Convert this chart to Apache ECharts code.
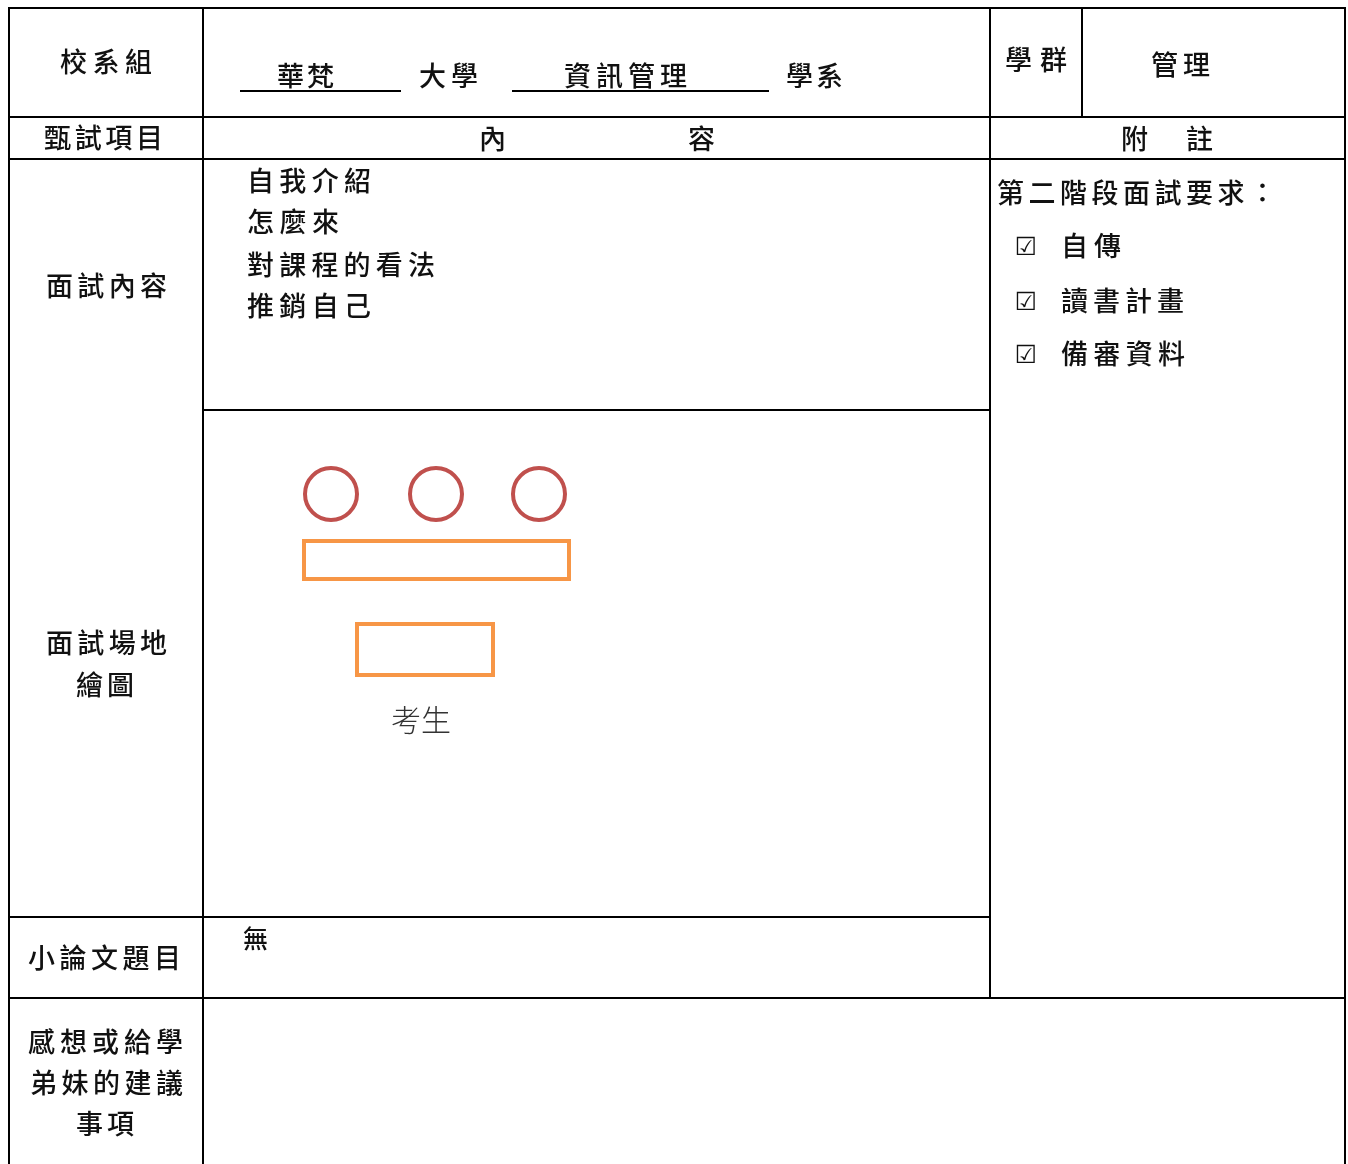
<!DOCTYPE html>
<html><head><meta charset="utf-8">
<script src="https://cdn.jsdelivr.net/npm/echarts@6/dist/echarts.min.js"></script>
<style>html,body{margin:0;padding:0;background:#fff}#c{width:1348px;height:1164px}</style>
</head><body><div id="c"></div>
<script>
// ---- content (text only) ----
const schoolName = '華梵';
const deptName = '資訊管理';
const headerWords = ['大學', '學系'];
const groupLabel = '學群';
const groupValue = '管理';
const rowLabels = ['校系組', '甄試項目', '面試內容', ['面試場地', '繪圖'], '小論文題目', ['感想或給學', '弟妹的建議', '事項']];
const columnHeads = ['內', '容', '附', '註'];
const interviewTopics = ['自我介紹', '怎麼來', '對課程的看法', '推銷自己'];
const requirementsTitle = '第二階段面試要求：';
const requirementMark = '☑';
const requirements = ['自傳', '讀書計畫', '備審資料'];
const interviewers = ['考官1', '考官2', '考官3'];
const examineeLabel = '考生';
const essayTopic = '無';

// ---- layout ----
const FONT = '"Noto Sans CJK TC", "Noto Sans CJK SC", sans-serif';
const W = '500';
const els = [];
function spaced(str, left, right, cy, size, color) {
  const chars = Array.from(str);
  const n = chars.length;
  const pitch = n > 1 ? (right - left - size) / (n - 1) : 0;
  chars.forEach((ch, i) => {
    els.push({type: 'text', z: 10, style: {text: ch, x: left + size / 2 + i * pitch, y: cy,
      align: 'center', verticalAlign: 'middle', font: W + ' ' + size + 'px ' + FONT, fill: color || '#111'}});
  });
}
function line(x1, y1, x2, y2, w) {
  els.push({type: 'line', z: 5, shape: {x1, y1, x2, y2}, style: {stroke: '#000', lineWidth: w || 2}});
}
// grid lines
const L = 9, R = 1345, C1 = 203, C2 = 990, C3 = 1082, B = 1164;
line(L - 1, 8, R + 1, 8);
line(L, 7, L, B);
line(R, 7, R, B);
line(C1, 7, C1, B);
line(C2, 7, C2, 998);
line(C3, 7, C3, 117);
line(L, 117, R, 117);
line(L, 159, R, 159);
line(C1, 410, C2, 410);
line(L, 917, C2, 917);
line(L, 998, R, 998);
// underlines
line(240, 91, 401, 91);
line(512, 91, 769, 91);

// left column labels
const S = 27;
spaced(rowLabels[0], 60, 152, 62, S);
spaced(rowLabels[1], 44, 163, 138, S);
spaced(rowLabels[2], 46, 167, 286, S);
spaced(rowLabels[3][0], 46, 167, 643, S);
spaced(rowLabels[3][1], 76, 134, 685, S);
spaced(rowLabels[4], 28, 181, 958, S);
spaced(rowLabels[5][0], 28, 183, 1042, S);
spaced(rowLabels[5][1], 30, 183, 1083, S);
spaced(rowLabels[5][2], 76, 134, 1124, S);

// header row
spaced(schoolName, 277, 334, 76, S);
spaced(headerWords[0], 419, 478, 76, S);
spaced(deptName, 564, 687, 76, S);
spaced(headerWords[1], 786, 843, 76, S);
spaced(groupLabel, 1005, 1067, 60, S);
spaced(groupValue, 1151, 1210, 65, S);
spaced(columnHeads[0], 479, 506, 139, S);
spaced(columnHeads[1], 688, 715, 139, S);
spaced(columnHeads[2], 1121, 1148, 139, S);
spaced(columnHeads[3], 1186, 1213, 139, S);

// interview topics
const topicY = [181, 222, 265, 306];
const topicRight = [371, 339, 435, 371];
interviewTopics.forEach((t, i) => spaced(t, 247, topicRight[i], topicY[i], S));

// requirements
spaced(requirementsTitle, 997, 1276, 193, S);
const reqY = [246, 301, 354];
const reqRight = [1121, 1184, 1185];
requirements.forEach((t, i) => {
  els.push({type: 'text', z: 10, style: {text: requirementMark, x: 1026, y: reqY[i] + 2, align: 'center',
    verticalAlign: 'middle', font: 'bold 25px "DejaVu Sans", sans-serif', fill: '#111'}});
  spaced(t, 1061, reqRight[i], reqY[i], S);
});

// essay
spaced(essayTopic, 243, 268, 938, 25);

// seating drawing
const seatX = [331, 436, 539];
interviewers.forEach((name, i) => {
  els.push({type: 'circle', z: 10, name: name, shape: {cx: seatX[i], cy: 494, r: 26},
    style: {fill: 'none', stroke: '#c0504d', lineWidth: 4}});
});
els.push({type: 'rect', z: 10, shape: {x: 304, y: 541, width: 265, height: 38},
  style: {fill: 'none', stroke: '#f79646', lineWidth: 4}});
els.push({type: 'rect', z: 10, shape: {x: 357, y: 624, width: 136, height: 51},
  style: {fill: 'none', stroke: '#f79646', lineWidth: 4}});
els.push({type: 'text', z: 10, style: {text: examineeLabel, x: 421, y: 720, align: 'center', verticalAlign: 'middle',
  font: '300 30px ' + FONT, fill: '#333'}});

const chart = echarts.init(document.getElementById('c'), null, {renderer: 'canvas'});
chart.setOption({backgroundColor: '#fff', animation: false, graphic: {elements: els}});
</script></body></html>
